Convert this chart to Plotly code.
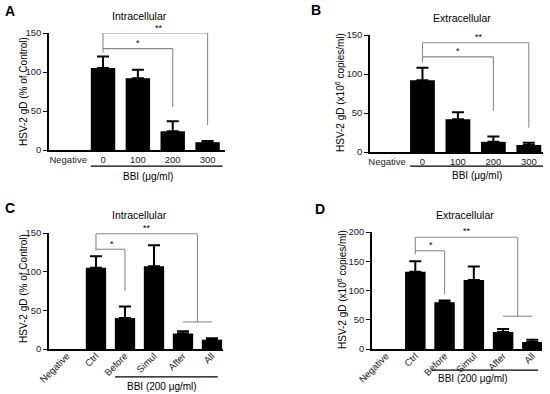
import plotly.graph_objects as go

# ---------------- data ----------------
cats_ab = ["Negative", "0", "100", "200", "300"]
a_vals = [None, 105, 92, 24, 10]
a_err = [None, 15, 11, 13, 1.5]
b_vals = [None, 92, 42, 13, 9]
b_err = [None, 16, 9, 7, 3]

cats_cd = ["Negative", "Ctrl", "Before", "Simul", "After", "All"]
c_vals = [None, 105, 40, 107, 20, 12]
c_err = [None, 15, 15, 27, 3, 2]
d_vals = [None, 132, 80, 118, 29, 12]
d_err = [None, 18, 3, 23, 5, 4]

W, H = 550, 394
FONT = "Liberation Sans, Arial, sans-serif"

def px_x(a, b):
    return [a / W, b / W]

def px_y(top, bottom):
    return [1 - bottom / H, 1 - top / H]

panels = [
    dict(k="", cats=cats_ab, v=a_vals, e=a_err, xd=(49, 225), yd=(33, 150), xr=[-0.55, 4.5], yr=[0, 150], yt=[0, 50, 100, 150], cap=6, ang=0, so=0),
    dict(k="2", cats=cats_ab, v=b_vals, e=b_err, xd=(370, 543), yd=(35, 152), xr=[-0.48, 4.4], yr=[0, 150], yt=[0, 50, 100, 150], cap=6, ang=0, so=0),
    dict(k="3", cats=cats_cd, v=c_vals, e=c_err, xd=(49, 223), yd=(233, 349), xr=[-0.62, 5.38], yr=[0, 150], yt=[0, 50, 100, 150], cap=6, ang=-45, so=-4),
    dict(k="4", cats=cats_cd, v=d_vals, e=d_err, xd=(372, 542), yd=(232, 349), xr=[-0.48, 5.33], yr=[0, 200], yt=[0, 50, 100, 150, 200], cap=6, ang=-45, so=-4),
]

fig = go.Figure()
layout = {}
for p in panels:
    k = p["k"]
    idx = list(range(len(p["cats"])))
    fig.add_trace(go.Bar(
        x=idx, y=p["v"], width=0.7, marker=dict(color="black", line=dict(width=0)),
        error_y=dict(type="data", array=p["e"], arrayminus=[0 if e is not None else None for e in p["e"]],
                     symmetric=False, color="black", thickness=2, width=p["cap"]),
        xaxis="x" + k, yaxis="y" + k, showlegend=False, hoverinfo="skip"))
    layout["xaxis" + k] = dict(
        domain=px_x(*p["xd"]), range=p["xr"], anchor="y" + k, automargin=False,
        tickvals=idx, ticktext=p["cats"], tickangle=p["ang"], ticks="", ticklabelstandoff=p["so"],
        showline=True, linecolor="black", linewidth=1.5, showgrid=False, zeroline=False,
        tickfont=dict(family=FONT, size=9.5, color="#222"), fixedrange=True)
    layout["yaxis" + k] = dict(
        domain=px_y(*p["yd"]), range=p["yr"], anchor="x" + k, automargin=False,
        tickvals=p["yt"], ticks="outside", ticklen=4, tickwidth=1.2, tickcolor="black",
        showline=True, linecolor="black", linewidth=1.5, showgrid=False, zeroline=False,
        tickfont=dict(family=FONT, size=9.5, color="#222"), fixedrange=True)

fig.update_layout(**layout)

GRAY = "#8a8a8a"
shapes = []
annots = []

def seg(k, x0, y0, x1, y1, color=GRAY, w=1.1):
    shapes.append(dict(type="line", xref="x" + k, yref="y" + k, x0=x0, y0=y0, x1=x1, y1=y1,
                       line=dict(color=color, width=w)))

def star(k, x, y, t):
    annots.append(dict(x=x, y=y, xref="x" + k, yref="y" + k, text=t, showarrow=False,
                       yanchor="bottom", font=dict(family=FONT, size=9, color="black")))

# Panel A brackets
seg("", 1, 150, 4, 150); seg("", 1, 150, 1, 125); seg("", 4, 150, 4, 32)
seg("", 1, 130, 3, 130); seg("", 3, 130, 3, 55)
star("", 2.6, 148, "**"); star("", 2.0, 128, "*")
# Panel B brackets
seg("2", 1, 140, 4, 140); seg("2", 1, 140, 1, 115); seg("2", 4, 140, 4, 31)
seg("2", 1, 122, 3, 122); seg("2", 3, 122, 3, 53)
star("2", 2.6, 138, "**"); star("2", 2.0, 120, "*")
# Panel C brackets
seg("3", 1, 149, 4.5, 149); seg("3", 1, 149, 1, 127); seg("3", 4.5, 149, 4.5, 35)
seg("3", 4, 35, 5, 35)
seg("3", 1, 129, 2, 129); seg("3", 2, 129, 2, 75)
star("3", 2.76, 147, "**"); star("3", 1.55, 127, "*")
# Panel D brackets
seg("4", 1, 191, 4.5, 191); seg("4", 1, 191, 1, 162); seg("4", 4.5, 191, 4.5, 56)
seg("4", 4, 56, 5, 56)
seg("4", 1, 168, 2, 168); seg("4", 2, 168, 2, 94)
star("4", 2.77, 189, "**"); star("4", 1.54, 166, "*")

def bbi(k, x0, x1, yl, xt, yt, text):
    shapes.append(dict(type="line", xref="x" + k, yref="y" + k + " domain", x0=x0, x1=x1, y0=yl, y1=yl,
                       line=dict(color="black", width=1.3)))
    annots.append(dict(x=xt, y=yt, xref="x" + k, yref="y" + k + " domain", text=text, showarrow=False,
                       yanchor="middle", font=dict(family=FONT, size=10, color="black")))

bbi("", 0.65, 4.43, -0.137, 2.29, -0.225, "BBI (μg/ml)")
bbi("2", 0.65, 4.4, -0.12, 2.55, -0.205, "BBI (μg/ml)")
bbi("3", 1.66, 5.2, -0.24, 3.28, -0.32, "BBI (200 μg/ml)")
bbi("4", 1.57, 5.2, -0.18, 2.97, -0.25, "BBI (200 μg/ml)")

def pann(x, y, text, size, angle=0):
    annots.append(dict(x=x / W, y=1 - y / H, xref="paper", yref="paper", text=text, showarrow=False,
                       xanchor="center", yanchor="middle", textangle=angle,
                       font=dict(family=FONT, size=size, color="black")))

pann(140, 16, "Intracellular", 10.5)
pann(462, 18, "Extracellular", 10.5)
pann(140, 215, "Intracellular", 10.5)
pann(465, 215, "Extracellular", 10.5)
pann(10, 11, "<b>A</b>", 14)
pann(316, 10, "<b>B</b>", 14)
pann(10, 208, "<b>C</b>", 14)
pann(320, 209, "<b>D</b>", 14)
pann(23, 92, "HSV-2 gD (% of Control)", 10, angle=-90)
pann(340, 93, "HSV-2 gD (x10<sup>6</sup> copies/ml)", 10, angle=-90)
pann(23, 289, "HSV-2 gD (% of Control)", 10, angle=-90)
pann(342, 290, "HSV-2 gD (x10<sup>6</sup> copies/ml)", 10, angle=-90)

fig.update_layout(
    shapes=shapes, annotations=annots,
    width=W, height=H, margin=dict(l=0, r=0, t=0, b=0, autoexpand=False),
    paper_bgcolor="white", plot_bgcolor="white", bargap=0.3,
    font=dict(family=FONT, color="black"),
)
fig.write_html("out.html", config={"displayModeBar": False},
               post_script="document.body.style.margin='0';document.body.style.padding='0';document.body.style.overflow='hidden';")
